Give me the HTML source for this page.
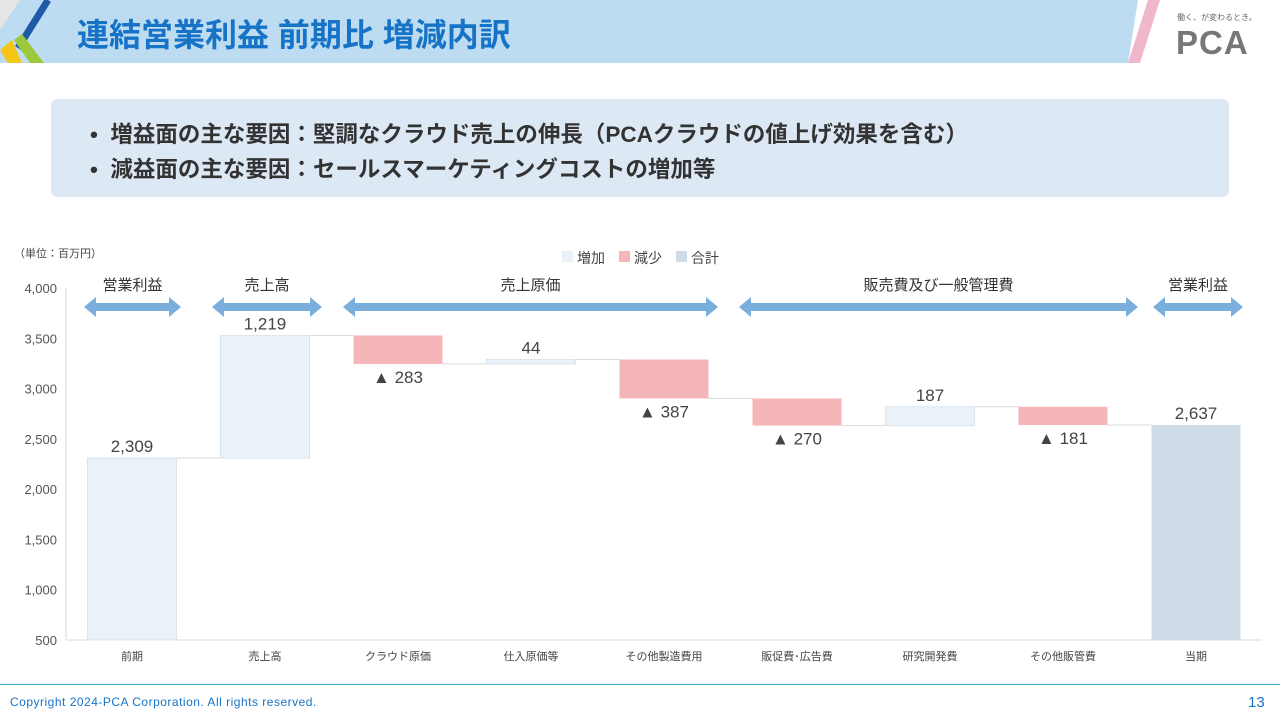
<!DOCTYPE html>
<html><head><meta charset="utf-8">
<style>
body{margin:0;width:1280px;height:720px;overflow:hidden;background:#fff;font-family:"Liberation Sans","Noto Sans CJK JP",sans-serif;position:relative}
.abs{position:absolute}
</style></head><body>
<div class="abs" style="left:0;top:0;width:1280px;height:63px;background:#bddcf2"></div>
<svg class="abs" style="left:0;top:0" width="1280" height="70">
<polygon points="1138,0 1280,0 1280,63 1128,63" fill="#fff"/>
<polygon points="1148,0 1160,0 1140,63 1128,63" fill="#f0b6cb"/>
<polygon points="0,0 20,0 0,30" fill="#e6e6e6"/>
<line x1="18" y1="48" x2="48" y2="0" stroke="#1f5aa6" stroke-width="7"/>
<polygon points="0,50 12,40 22,63 8,63" fill="#f5c518"/>
<polygon points="14,40 30,63 44,63 22,34" fill="#9cc93b"/>
</svg>
<div class="abs" style="left:77px;top:10px;font-size:32px;font-weight:bold;color:#1773c6">連結営業利益 前期比 増減内訳</div>
<div class="abs" style="left:1177px;top:12px;font-size:8px;color:#666">働く、が変わるとき。</div>
<div class="abs" style="left:1176px;top:24px;font-size:33px;font-weight:bold;color:#777;letter-spacing:1px">PCA</div>

<div class="abs" style="left:51px;top:99px;width:1178px;height:98px;background:#dde8f5;border-radius:6px"></div>
<div class="abs" style="left:90px;top:117px;font-size:22.5px;font-weight:bold;color:#333">•&nbsp; 増益面の主な要因：堅調なクラウド売上の伸長（PCAクラウドの値上げ効果を含む）</div>
<div class="abs" style="left:90px;top:152px;font-size:22.5px;font-weight:bold;color:#333">•&nbsp; 減益面の主な要因：セールスマーケティングコストの増加等</div>

<div class="abs" style="left:14px;top:245px;font-size:11px;color:#444">（単位：百万円）</div>

<svg id="chart" class="abs" style="left:0;top:0" width="1280" height="720"></svg>

<div class="abs" style="left:0;top:684px;width:1280px;height:1px;background:#4aa3c9"></div>
<div class="abs" style="left:10px;top:695px;font-size:12px;letter-spacing:0.5px;color:#1773c6">Copyright 2024-PCA Corporation. All rights reserved.</div>
<div class="abs" style="left:1248px;top:694px;font-size:15px;color:#1773c6">13</div>

<script>
const categories=["前期","売上高","クラウド原価","仕入原価等","その他製造費用","販促費･広告費","研究開発費","その他販管費","当期"];
const deltas=[2309,1219,-283,44,-387,-270,187,-181,2637];
const kinds=["start","inc","dec","inc","dec","dec","inc","dec","total"];
const labels=["2,309","1,219","▲ 283","44","▲ 387","▲ 270","187","▲ 181","2,637"];
const yTicks=[500,1000,1500,2000,2500,3000,3500,4000];
const groupNames=["営業利益","売上高","売上原価","販売費及び一般管理費","営業利益"];
const legendNames=["増加","減少","合計"];
// arrow pixel extents (layout, not data)
const arrowExtents=[[84,181],[212,322],[343,718],[739,1138],[1153,1243]];

const NS="http://www.w3.org/2000/svg";
const svg=document.getElementById("chart");
const y=v=>640-(v-500)*352/3500;
const x=i=>132+i*133.0;
const bw=89;
const colors={inc:"#eaf1f8",start:"#eaf1f8",dec:"#f4b6b9",total:"#cfdce7"};
function el(t,a,txt){const e=document.createElementNS(NS,t);for(const k in a)e.setAttribute(k,a[k]);if(txt!==undefined)e.textContent=txt;svg.appendChild(e);return e;}

yTicks.forEach(t=>{
  const e=el("text",{x:57,y:y(t)+5,"text-anchor":"end","font-size":13,fill:"#555"},t.toLocaleString("en-US"));
  
  
});
const ax=el("line",{x1:66,x2:66,y1:288,y2:640,stroke:"#d9d9d9"});


const bl=el("line",{x1:66,x2:1262,y1:640,y2:640,stroke:"#d9d9d9"});



let run=0;
deltas.forEach((d,i)=>{
  let lo,hi,k=kinds[i];
  if(k==="total"||k==="start"){lo=500;hi=d;run=d;}
  else{const nr=run+d;lo=Math.min(run,nr);hi=Math.max(run,nr);run=nr;}
  const r=el("rect",{x:x(i)-bw/2,y:y(hi),width:bw,height:y(lo)-y(hi),fill:colors[k],stroke:(k==="inc"||k==="start")?"#dbe5ee":"none"});
  
  
  if(i<deltas.length-1){
    const ln=el("line",{x1:x(i)+bw/2,x2:x(i+1)-bw/2,y1:y(run),y2:y(run),stroke:"#d9d9d9"});
    
    
  }
  const ly=k==="dec"?y(lo)+19:y(hi)-6;
  const t=el("text",{x:x(i),y:ly,"text-anchor":"middle","font-size":17,fill:"#444"},labels[i]);
  
  
  const c=el("text",{x:x(i),y:660,"text-anchor":"middle","font-size":11,fill:"#444"},categories[i]);
  
  
});

groupNames.forEach((g,i)=>{
  const x1=arrowExtents[i][0],x2=arrowExtents[i][1],cy=307;
  const p=el("path",{d:`M${x1},${cy} L${x1+12},${cy-10} L${x1+12},${cy-4} L${x2-12},${cy-4} L${x2-12},${cy-10} L${x2},${cy} L${x2-12},${cy+10} L${x2-12},${cy+4} L${x1+12},${cy+4} L${x1+12},${cy+10} Z`,fill:"#7aaedc"});
  
  
  const t=el("text",{x:(x1+x2)/2,y:290,"text-anchor":"middle","font-size":15,fill:"#333"},g);
  
  
});

const lc=[colors.inc,colors.dec,colors.total];
let lx=562;
legendNames.forEach((n,i)=>{
  const r=el("rect",{x:lx,y:251,width:11,height:11,fill:lc[i]});
  
  
  const t=el("text",{x:lx+15,y:263,"font-size":14,fill:"#444"},n);
  
  
  lx+=57;
});
</script>
</body></html>
